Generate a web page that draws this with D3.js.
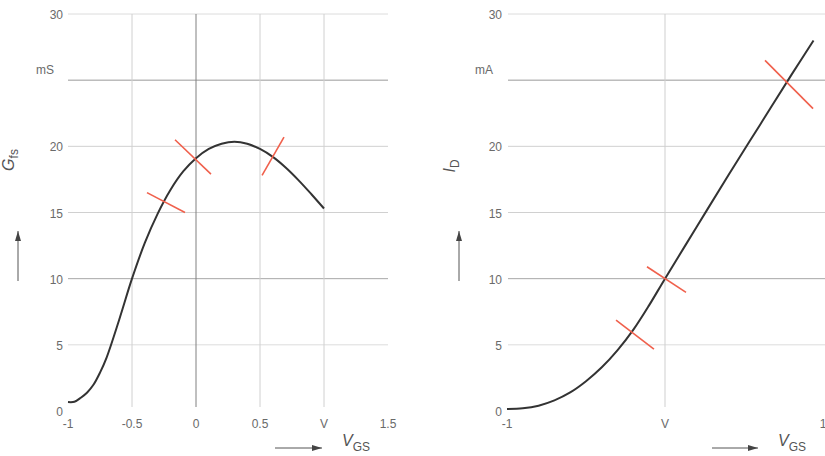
<!DOCTYPE html>
<html>
<head>
<meta charset="utf-8">
<title>Gfs and ID over VGS</title>
<script src="https://cdnjs.cloudflare.com/ajax/libs/d3/7.8.5/d3.min.js"></script>
<style>
  body {
    margin: 0;
    background: #fff;
    font-family: "Liberation Sans", Arial, sans-serif;
  }
  .tick-label {
    font-size: 12px;
    fill: #6a6a6a;
  }
  .title {
    font-size: 16px;
    fill: #555;
  }
</style>
</head>
<body>
<div id="graph"></div>
<script>
  // left panel: transconductance Gfs (mS) over VGS (V)
  var leftVgs = [-1.0, -0.95, -0.9, -0.85, -0.8, -0.75, -0.7, -0.6, -0.5, -0.4, -0.3, -0.2, -0.1, 0.0, 0.1, 0.2, 0.3, 0.4, 0.5, 0.6, 0.7, 0.8, 0.9, 1.0];
  var leftGfs = [0.68, 0.7, 1.0, 1.4, 2.0, 2.9, 4.0, 6.9, 10.0, 12.7, 14.9, 16.7, 18.1, 19.1, 19.8, 20.2, 20.35, 20.2, 19.8, 19.2, 18.4, 17.45, 16.4, 15.3];

  // right panel: drain current ID (mA) over VGS (V)
  var rightVgs = [-1.0, -0.9, -0.8, -0.7, -0.6, -0.5, -0.4, -0.3, -0.2, -0.1, 0.0, 0.2, 0.4, 0.6, 0.8, 0.94];
  var rightId = [0.15, 0.2, 0.4, 0.8, 1.4, 2.25, 3.3, 4.6, 6.15, 8.0, 10.0, 13.9, 17.8, 21.6, 25.4, 28.0];

  // red cross marks, endpoints in data units [x1, y1, x2, y2]
  var leftMarks = [
    [-0.383, 16.5, -0.086, 15.0],
    [-0.164, 20.5, 0.117, 17.9],
    [0.516, 17.8, 0.6875, 20.7]
  ];
  var rightMarks = [
    [-0.31, 6.86, -0.07, 4.68],
    [-0.114, 10.9, 0.133, 8.97],
    [0.633, 26.5, 0.937, 22.85]
  ];

  // ticks and gridlines
  var yTicks = [0, 5, 10, 15, 20, 25, 30];
  var yLabelsLeft = ["0", "5", "10", "15", "20", "mS", "30"];
  var yLabelsRight = ["0", "5", "10", "15", "20", "mA", "30"];
  var hGrid = [5, 10, 15, 20, 25, 30];
  var hGridColor = ["#dcdcdc", "#a8a8a8", "#d0d0d0", "#d0d0d0", "#9a9a9a", "#dcdcdc"];

  var leftXTicks = [-1, -0.5, 0, 0.5, 1, 1.5];
  var leftXLabels = ["-1", "-0.5", "0", "0.5", "V", "1.5"];
  var leftVGrid = [-0.5, 0, 0.5, 1];
  var leftVGridColor = ["#d0d0d0", "#808080", "#d0d0d0", "#d0d0d0"];

  var rightXTicks = [-1, 0, 1];
  var rightXLabels = ["-1", "V", "1"];
  var rightVGrid = [0];
  var rightVGridColor = ["#cfcfcf"];

  var width = 825;
  var height = 456;

  var vis = d3.select("#graph")
    .append("svg")
    .attr("width", width)
    .attr("height", height);

  var defs = vis.append("defs");
  defs.append("marker")
    .attr("id", "head")
    .attr("viewBox", "0 0 10 10")
    .attr("refX", 10)
    .attr("refY", 5)
    .attr("markerWidth", 10)
    .attr("markerHeight", 10)
    .attr("markerUnits", "userSpaceOnUse")
    .attr("orient", "auto")
    .append("path")
    .attr("d", "M0,2 L10,5 L0,8 Z")
    .attr("fill", "#444");

  function MkPanel(opt) {
    var x = d3.scaleLinear().domain(opt.xDomain).range(opt.xRange);
    var y = d3.scaleLinear().domain([0, 30]).range([411, 14]);
    var g = vis.append("g");

    // horizontal grid
    g.selectAll("line.hgrid")
      .data(hGrid)
      .enter()
      .append("line")
      .attr("class", "hgrid")
      .attr("x1", opt.gridLeft)
      .attr("x2", opt.gridRight)
      .attr("y1", function(d) { return y(d); })
      .attr("y2", function(d) { return y(d); })
      .attr("stroke", function(d, i) { return hGridColor[i]; })
      .attr("stroke-width", 1);

    // vertical grid
    g.selectAll("line.vgrid")
      .data(opt.vGrid)
      .enter()
      .append("line")
      .attr("class", "vgrid")
      .attr("x1", function(d) { return x(d); })
      .attr("x2", function(d) { return x(d); })
      .attr("y1", y(30))
      .attr("y2", y(0) - 4)
      .attr("stroke", function(d, i) { return opt.vGridColor[i]; })
      .attr("stroke-width", 1);

    // y tick labels
    g.selectAll("text.ylab")
      .data(yTicks)
      .enter()
      .append("text")
      .attr("class", "tick-label")
      .attr("text-anchor", "end")
      .attr("x", function(d) { return d == 25 ? opt.yLabelX - 9 : opt.yLabelX; })
      .attr("y", function(d) { return d == 25 ? y(d) - 6 : y(d) + 5; })
      .text(function(d, i) { return opt.yLabels[i]; });

    // x tick labels
    g.selectAll("text.xlab")
      .data(opt.xTicks)
      .enter()
      .append("text")
      .attr("class", "tick-label")
      .attr("text-anchor", "middle")
      .attr("x", function(d) { return x(d); })
      .attr("y", 428)
      .text(function(d, i) { return opt.xLabels[i]; });

    // curve
    var line = d3.line()
      .x(function(d) { return x(d[0]); })
      .y(function(d) { return y(d[1]); })
      .curve(d3.curveCatmullRom);

    g.append("path")
      .datum(d3.zip(opt.xs, opt.ys))
      .attr("d", line)
      .attr("fill", "none")
      .attr("stroke", "#333")
      .attr("stroke-width", 2);

    // red marks
    g.selectAll("line.mark")
      .data(opt.marks)
      .enter()
      .append("line")
      .attr("x1", function(d) { return x(d[0]); })
      .attr("y1", function(d) { return y(d[1]); })
      .attr("x2", function(d) { return x(d[2]); })
      .attr("y2", function(d) { return y(d[3]); })
      .attr("stroke", "#f0604c")
      .attr("stroke-width", 1.6);

    // y axis title, rotated, with subscript
    var yt = g.append("text")
      .attr("class", "title")
      .attr("text-anchor", "middle")
      .attr("transform", "translate(" + opt.yTitleX + "," + opt.yTitleY + ") rotate(-90)");
    yt.append("tspan").attr("font-style", "italic").text(opt.yTitle[0]);
    yt.append("tspan").attr("font-size", "12px").attr("dy", 4).text(opt.yTitle[1]);

    // up arrow
    g.append("line")
      .attr("x1", opt.yTitleX + 4)
      .attr("x2", opt.yTitleX + 4)
      .attr("y1", 281)
      .attr("y2", 231)
      .attr("stroke", "#555")
      .attr("stroke-width", 1)
      .attr("marker-end", "url(#head)");

    // x title and arrow
    g.append("line")
      .attr("x1", opt.xArrow[0])
      .attr("x2", opt.xArrow[1])
      .attr("y1", 448)
      .attr("y2", 448)
      .attr("stroke", "#555")
      .attr("stroke-width", 1)
      .attr("marker-end", "url(#head)");

    var xt = g.append("text")
      .attr("class", "title")
      .attr("x", opt.xArrow[1] + 20)
      .attr("y", 446);
    xt.append("tspan").attr("font-style", "italic").text("V");
    xt.append("tspan").attr("font-size", "12px").attr("dy", 5).text("GS");
  }

  MkPanel({
    xDomain: [-1, 1.5], xRange: [68, 388],
    gridLeft: 68, gridRight: 388,
    vGrid: leftVGrid, vGridColor: leftVGridColor,
    yLabels: yLabelsLeft, yLabelX: 63,
    xTicks: leftXTicks, xLabels: leftXLabels,
    xs: leftVgs, ys: leftGfs, marks: leftMarks,
    yTitle: ["G", "fs"], yTitleX: 14, yTitleY: 160,
    xArrow: [275, 322]
  });

  MkPanel({
    xDomain: [-1, 1], xRange: [507, 823],
    gridLeft: 508, gridRight: 825,
    vGrid: rightVGrid, vGridColor: rightVGridColor,
    yLabels: yLabelsRight, yLabelX: 502,
    xTicks: rightXTicks, xLabels: rightXLabels,
    xs: rightVgs, ys: rightId, marks: rightMarks,
    yTitle: ["I", "D"], yTitleX: 455, yTitleY: 166,
    xArrow: [712, 758]
  });
</script>
</body>
</html>
